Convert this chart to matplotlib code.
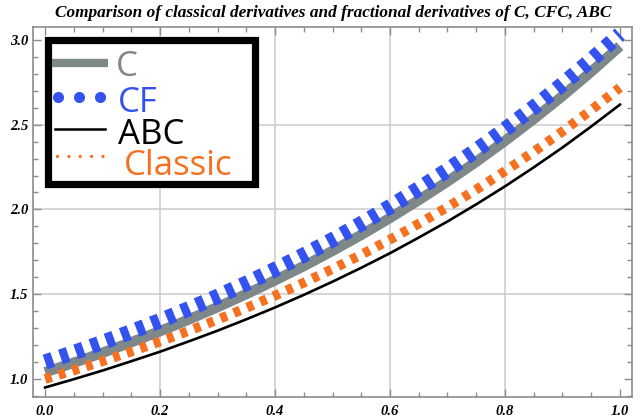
import matplotlib
matplotlib.use("Agg")
import matplotlib.pyplot as plt
from matplotlib.lines import Line2D
from matplotlib.patches import Rectangle
from matplotlib.ticker import MultipleLocator

# values
x = [0.00, 0.05, 0.10, 0.15, 0.20, 0.25, 0.30, 0.35, 0.40, 0.45, 0.50,
     0.55, 0.60, 0.65, 0.70, 0.75, 0.80, 0.85, 0.90, 0.95, 1.00]
c_vals = [1.040, 1.096, 1.155, 1.217, 1.282, 1.351, 1.424, 1.501, 1.582, 1.666, 1.756,
          1.850, 1.950, 2.055, 2.165, 2.281, 2.404, 2.533, 2.669, 2.812, 2.963]
cf_vals = [1.100, 1.156, 1.216, 1.279, 1.344, 1.414, 1.487, 1.564, 1.646, 1.731, 1.821,
           1.916, 2.016, 2.122, 2.232, 2.349, 2.472, 2.602, 2.738, 2.882, 3.033]
abc_vals = [0.950, 0.999, 1.050, 1.105, 1.161, 1.222, 1.285, 1.352, 1.422, 1.496, 1.574,
            1.656, 1.742, 1.834, 1.929, 2.030, 2.136, 2.248, 2.365, 2.489, 2.618]
classic_vals = [1.000, 1.051, 1.105, 1.162, 1.221, 1.284, 1.350, 1.419, 1.492, 1.568, 1.649,
                1.733, 1.822, 1.916, 2.014, 2.117, 2.226, 2.340, 2.460, 2.586, 2.718]

x_ticks = [0.0, 0.2, 0.4, 0.6, 0.8, 1.0]
y_ticks = [1.0, 1.5, 2.0, 2.5, 3.0]
x_grid = [0.2, 0.4, 0.6, 0.8]
y_grid = [1.5, 2.0, 2.5]
labels = ['C', 'CF', 'ABC', 'Classic']
title = 'Comparison of classical derivatives and fractional derivatives of C, CFC, ABC'

GRAY = '#7f8888'
BLUE = '#3352ee'
BLACK = '#000000'
ORANGE = '#f5701f'
SPINE = '#8c8c8c'
W, H = 640, 420


def px(xp, yp):
    # pixel position (from top-left) -> figure fraction
    return xp / W, 1 - yp / H


fig = plt.figure(figsize=(6.4, 4.2), dpi=100)
ax = fig.add_axes([0.0516, 0.0548, 0.9359, 0.881])

for g in x_grid:
    ax.axvline(g, color='#cccccc', lw=1.1, zorder=0)
for g in y_grid:
    ax.axhline(g, color='#cccccc', lw=1.1, zorder=0)

ax.plot(x, c_vals, color=GRAY, lw=7.5, solid_capstyle='butt', zorder=2)
ax.plot(x, cf_vals, color=BLUE, lw=11, dashes=(0.53, 0.53),
        dash_capstyle='butt', zorder=3)
ax.plot(x, abc_vals, color=BLACK, lw=1.9, zorder=2)
ax.plot(x, classic_vals, color=ORANGE, lw=7, dashes=(0.7, 0.77),
        dash_capstyle='butt', zorder=3)

ax.set_xlim(-0.021, 1.021)
ax.set_ylim(0.894, 3.076)
ax.set_xticks(x_ticks)
ax.set_yticks(y_ticks)
ax.set_xticklabels(['%.1f' % v for v in x_ticks])
ax.set_yticklabels(['%.1f' % v for v in y_ticks])
ax.xaxis.set_minor_locator(MultipleLocator(0.05))
ax.yaxis.set_minor_locator(MultipleLocator(0.1))
ax.tick_params(which='both', direction='in', top=True, right=True,
               color=SPINE, width=1)
ax.tick_params(which='major', length=6)
ax.tick_params(which='minor', length=3.5)
ax.tick_params(axis='x', pad=6)
ax.tick_params(axis='y', pad=3.5)
for lab in ax.get_xticklabels() + ax.get_yticklabels():
    lab.set_fontfamily('Liberation Serif')
    lab.set_fontweight('bold')
    lab.set_fontstyle('italic')
    lab.set_fontsize(10.5)
for sp in ax.spines.values():
    sp.set_color(SPINE)
    sp.set_linewidth(1.2)

fig.text(0.52, 0.969, title, ha='center', va='center',
         fontfamily='Liberation Serif', fontweight='bold', fontstyle='italic',
         fontsize=12.4)

# legend box drawn by hand to follow the reference layout
x0, y0 = px(47.5, 183.5)
x1, y1 = px(254.5, 39.5)
fig.add_artist(Rectangle((x0, y0), x1 - x0, y1 - y0, transform=fig.transFigure,
                         facecolor='white', edgecolor='black', lw=5.2, zorder=5))
rows = [63, 97, 129, 156]
text_y = [63, 99, 130.5, 162]
text_x = [116, 118, 118, 124]
colors = [GRAY, BLUE, BLACK, ORANGE]
styles = [dict(lw=6, solid_capstyle='butt'),
          dict(ls='none', marker='o', ms=8, markeredgewidth=0),
          dict(lw=1.8),
          dict(lw=2.4, dashes=(0.01, 3.4), dash_capstyle='round')]
spans = [(52, 108), (58, 100), (55, 105), (57, 103)]
for lab, ry, ty, tx, col, st, sp in zip(labels, rows, text_y, text_x, colors, styles, spans):
    xa, ya = px(sp[0], ry)
    xb, _ = px(sp[1], ry)
    if st.get('marker'):
        xs = [xa, (xa + xb) / 2, xb]
    else:
        xs = [xa, xb]
    fig.add_artist(Line2D(xs, [ya] * len(xs), transform=fig.transFigure,
                          color=col, zorder=6, **st))
    tx_f, ty_f = px(tx, ty)
    fig.text(tx_f, ty_f, lab, color=col, fontfamily='Open Sans', fontsize=25,
             ha='left', va='center_baseline', zorder=6)

fig.savefig('out.png', dpi=100)
